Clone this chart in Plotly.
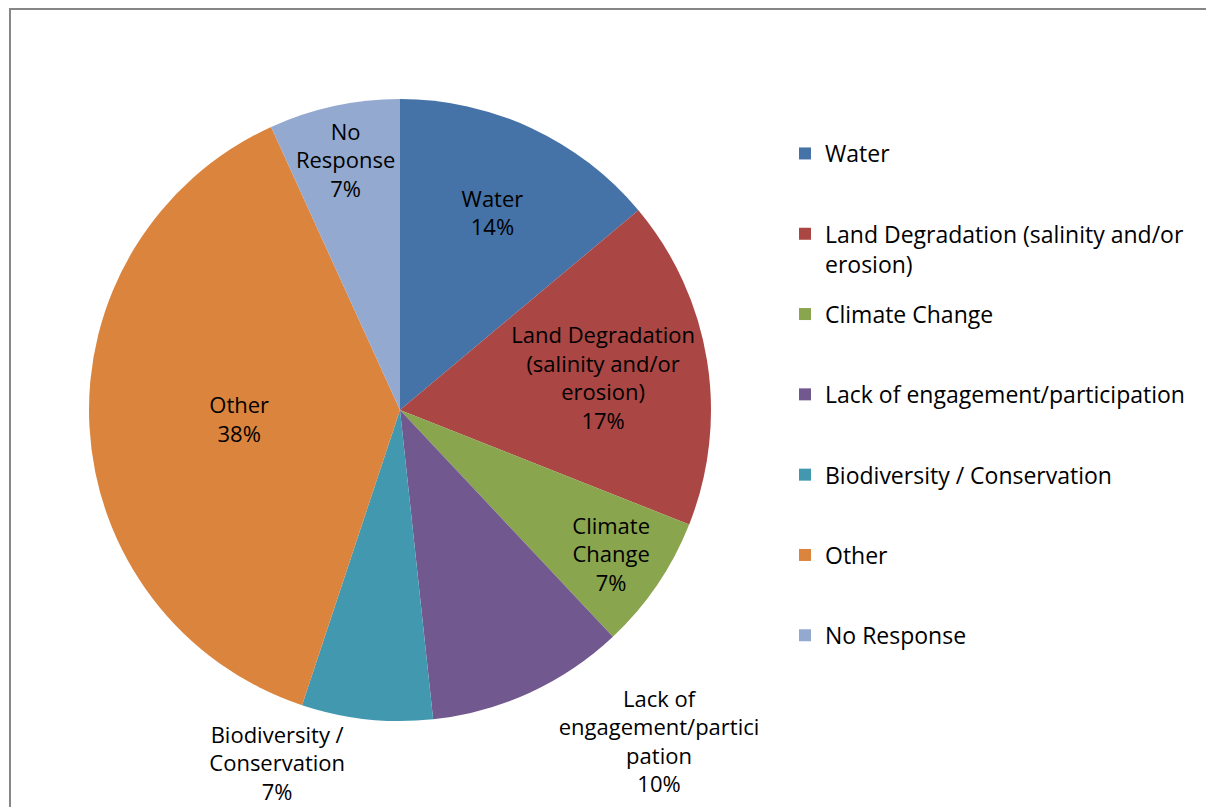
import plotly.graph_objects as go

categories = ["Water", "Land Degradation (salinity and/or erosion)", "Climate Change",
              "Lack of engagement/participation", "Biodiversity / Conservation",
              "Other", "No Response"]
values = [13.9, 17.1, 7.0, 10.3, 6.8, 38.1, 6.8]
slice_labels = ["Water", "Land Degradation<br>(salinity and/or<br>erosion)", "Climate<br>Change",
                "Lack of<br>engagement/partici<br>pation", "Biodiversity /<br>Conservation",
                "Other", "No<br>Response"]
legend_labels = ["Water", "Land Degradation (salinity and/or<br>erosion)", "Climate Change",
                 "Lack of engagement/participation", "Biodiversity / Conservation",
                 "Other", "No Response"]
colors = ["#4572A7", "#AA4643", "#89A54E", "#71588F", "#4198AF", "#DB843D", "#93A9CF"]
text_positions = ["inside", "inside", "inside", "outside", "outside", "inside", "inside"]

FONT = "Open Sans"
FS = 23
PIE_FS = 22
W, H = 1214, 807

fig = go.Figure()
fig.add_trace(go.Pie(
    labels=categories, values=values, text=slice_labels,
    texttemplate="%{text}<br>%{percent:.0%}",
    textposition=text_positions,
    insidetextorientation="horizontal",
    sort=False, direction="clockwise", rotation=0,
    marker=dict(colors=colors, line=dict(width=0)),
    textfont=dict(family=FONT, size=PIE_FS, color="#000000"),
    showlegend=False, hoverinfo="label+percent",
    domain=dict(x=[81 / W, 703 / W], y=[1 - 713 / H, 1 - 91 / H]),
))

for lab, col in zip(legend_labels, colors):
    txt = lab if "<br>" in lab else lab + "<br>\u00a0"
    fig.add_trace(go.Scatter(
        x=[None], y=[None], mode="markers", name=txt, legendgroup=lab,
        marker=dict(symbol="square", size=12, color=col),
        showlegend=True, hoverinfo="skip",
    ))

fig.update_layout(
    width=W, height=H,
    margin=dict(l=0, r=0, t=0, b=0),
    paper_bgcolor="white", plot_bgcolor="white",
    font=dict(family=FONT, size=FS, color="#000000"),
    xaxis=dict(visible=False), yaxis=dict(visible=False),
    uniformtext=dict(minsize=PIE_FS, mode="show"),
    legend=dict(x=777 / W, y=1 - 124 / H, xanchor="left", yanchor="top",
                valign="top", tracegroupgap=17.5, itemwidth=30,
                font=dict(family=FONT, size=FS, color="#000000"),
                bgcolor="rgba(0,0,0,0)"),
    shapes=[dict(type="rect", xref="paper", yref="paper",
                 x0=2 / W, x1=1205 / W, y0=-0.05, y1=1 - 1 / H,
                 line=dict(color="#868686", width=2), fillcolor="rgba(0,0,0,0)")],
)

fig.write_html("out.html")
